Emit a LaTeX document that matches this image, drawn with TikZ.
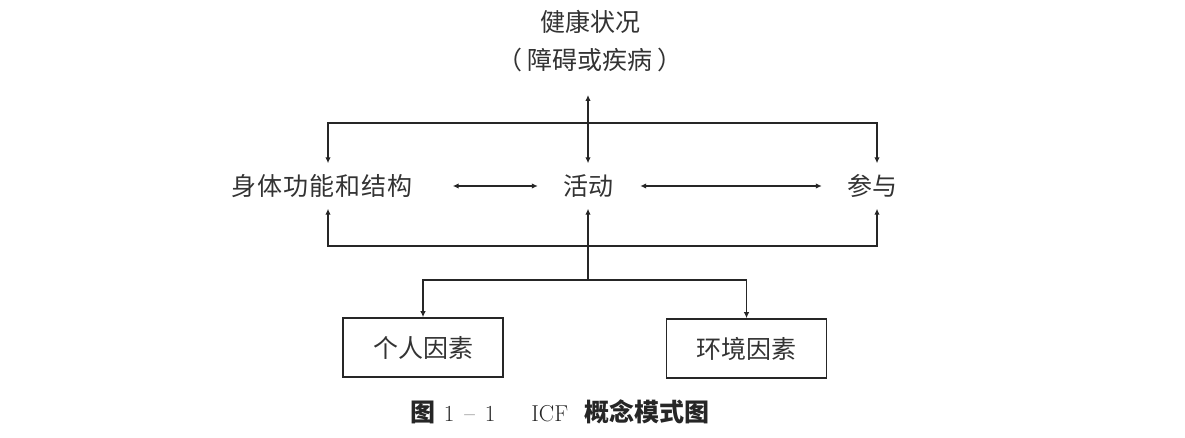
\documentclass[tikz,border=0pt]{standalone}
\usepackage{fontspec}
\newfontfamily\cjk{Noto Sans CJK SC}
\usetikzlibrary{arrows.meta}
\begin{document}
\begin{tikzpicture}[x=1pt,y=-1pt,
  lab/.style={font=\cjk\fontsize{25}{38}\selectfont, text=black!80, inner sep=0pt},
  mid/.style={lab, minimum height=45pt},
  conn/.style={line width=1.6pt, draw=black!85},
  fwd/.style={-{Latex[length=6pt,width=5.5pt]}},
  both/.style={{Latex[length=6pt,width=5.5pt]}-{Latex[length=6pt,width=5.5pt]}},
  box/.style={lab, draw=black!85, line width=1.6pt, minimum width=160pt, minimum height=59pt}]
\useasboundingbox (0,0) rectangle (1185,438);
\node[lab, align=center] (health) at (590,41) {健康状况\\（\hspace{5pt}障碍或疾病\hspace{5pt}）};
\node[mid] (body) at (322,186) {\addfontfeature{LetterSpace=4}身体功能和结构};
\node[mid] (act) at (588,186) {活动};
\node[mid] (part) at (872,186) {参与};
\node[box] (pf) at (423,347.5) {个人因素};
\node[box] (ef) at (746.5,348.5) {环境因素};
\node[inner sep=0pt, font=\fontsize{23}{26}\selectfont, text=black!85] (cap) at (560,412)
  {{\cjk\fontsize{25}{26}\selectfont\bfseries 图}\hspace{8pt}1\hspace{10pt}--\hspace{10pt}1\hspace{36pt}ICF\hspace{16pt}{\cjk\fontsize{25}{26}\selectfont\bfseries 概念模式图}};
\coordinate (htip) at (588,95);
\coordinate (topline) at (0,123);
\coordinate (botline) at (0,246);
\coordinate (brc) at (0,280);
\coordinate (lx) at (328,0);
\coordinate (rx) at (877,0);
\draw[conn, both] (htip) -- (act.north);
\draw[conn, both] (body.north -| lx) |- (topline -| rx) -- (part.north -| rx);
\draw[conn, both] (body.south -| lx) |- (botline -| rx) -- (part.south -| rx);
\draw[conn, both, shorten <=40pt, shorten >=25pt] (body.east) -- (act.west);
\draw[conn, both, shorten <=27pt, shorten >=25pt] (act.east) -- (part.west);
\draw[conn, fwd] (act.south |- brc) -- (act.south);
\draw[conn, fwd] (act.south |- brc) -| (pf.north);
\draw[conn, fwd] (act.south |- brc) -| (ef.north);
\end{tikzpicture}
\end{document}
